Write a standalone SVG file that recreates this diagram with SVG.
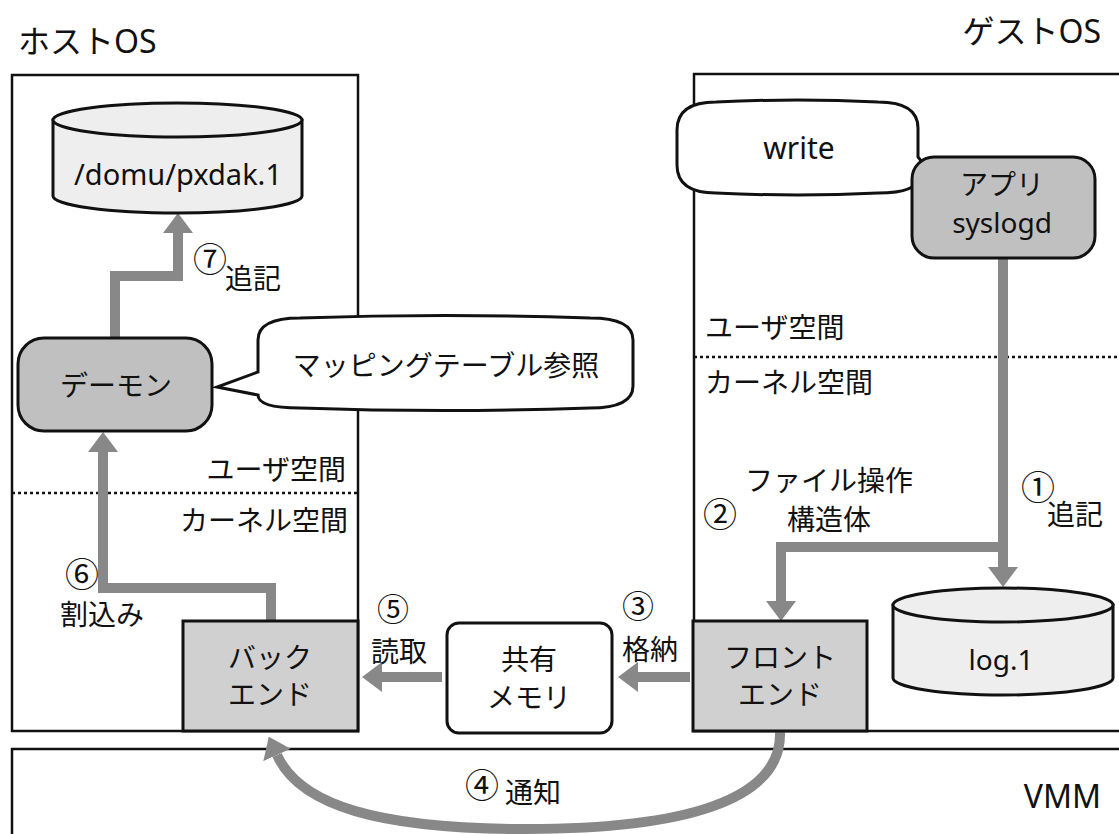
<svg xmlns="http://www.w3.org/2000/svg" width="1119" height="834" viewBox="0 0 1119 834">
<defs>
<style>
text{font-family:"Noto Sans","Noto Sans CJK JP",sans-serif;font-size:28px;fill:#111}
.cd{font-family:"Noto Sans CJK JP",sans-serif;font-size:34px}
.cds{font-size:32px}
.t32{font-size:32px}
.mid{text-anchor:middle}
.end{text-anchor:end}
.frame{fill:#fff;stroke:#111;stroke-width:2.5}
.dot{stroke:#111;stroke-width:2.5;stroke-dasharray:3 3;fill:none}
.conn{fill:none;stroke:#888;stroke-width:10;stroke-linejoin:miter}
.gray{fill:#c0c0c0;stroke:#111;stroke-width:3}
.lgray{fill:#d0d0d0;stroke:#111;stroke-width:3}
.white{fill:#fff;stroke:#111;stroke-width:3}
.cyl{fill:#eeeeee;stroke:#111;stroke-width:3}
</style>
<marker id="ah" viewBox="0 0 20 30" refX="0" refY="15" markerWidth="20" markerHeight="30" markerUnits="userSpaceOnUse" orient="auto">
<path d="M0,0 L20,15 L0,30 Z" fill="#888"/>
</marker>
</defs>
<rect width="1119" height="834" fill="#fff"/>

<g id="frames">
<rect class="frame" x="12" y="75" width="346" height="656"/>
<rect class="frame" x="694" y="74" width="500" height="657"/>
<rect class="frame" x="12" y="749" width="1200" height="200"/>
<line class="dot" x1="12" y1="493" x2="358" y2="493"/>
<line class="dot" x1="694" y1="357" x2="1119" y2="357"/>
<text class="t32" x="18" y="53">ホストOS</text>
<text class="t32 end" x="1101" y="43">ゲストOS</text>
<text class="t32 end" x="1101" y="808">VMM</text>
<text class="end" x="346" y="480">ユーザ空間</text>
<text class="end" x="348" y="531">カーネル空間</text>
<text x="705" y="338">ユーザ空間</text>
<text x="705" y="393">カーネル空間</text>
</g>

<g id="connectors">
<path class="conn" d="M1003,258 V567" marker-end="url(#ah)"/>
<path class="conn" d="M1003,547 H781 V601" marker-end="url(#ah)"/>
<path class="conn" d="M690,677 H638" marker-end="url(#ah)"/>
<path class="conn" d="M442,677 H382" marker-end="url(#ah)"/>
<path class="conn" d="M271,621 V588 H103 V452" marker-end="url(#ah)"/>
<path class="conn" d="M115,338 V276 H178 V233" marker-end="url(#ah)"/>
<path class="conn" d="M780,731 C783,802 680,829 526,829 C380,829 300,806 277,755" marker-end="url(#ah)"/>
<text class="cd" x="1021" y="500">①</text>
<text x="1047" y="525">追記</text>
<text class="cd" x="703" y="527">②</text>
<text class="cd cds mid" x="638" y="618">③</text>
<text class="mid" x="829" y="491">ファイル操作</text>
<text class="mid" x="829" y="530">構造体</text>
<text class="mid" x="650" y="660">格納</text>
<text class="cd" x="465" y="798">④</text>
<text x="505" y="803">通知</text>
<text class="cd cds mid" x="393" y="621">⑤</text>
<text class="mid" x="399" y="662">読取</text>
<text class="cd mid" x="82" y="587">⑥</text>
<text class="mid" x="102" y="625">割込み</text>
<text class="cd" x="193" y="272">⑦</text>
<text x="225" y="289">追記</text>
</g>

<g id="pxdak">
<path class="cyl" d="M53,120 V196 A124.5,17 0 0 0 302,196 V120 Z"/>
<ellipse class="cyl" cx="177.5" cy="120" rx="124.5" ry="17"/>
<text class="mid" x="178" y="185" style="font-size:29px">/domu/pxdak.1</text>
</g>

<g id="daemon">
<rect class="gray" x="18" y="338" width="194" height="93" rx="26" ry="26"/>
<text class="mid" x="116" y="396">デーモン</text>
</g>

<g id="mapping">
<path class="white" d="M258,372 V340 Q258,318 300,318 Q445,313 590,318 Q633,318 633,340 V386 Q633,408 590,408 Q445,413 300,408 Q258,408 258,395 L217,387 Z"/>
<text class="mid" x="446" y="376">マッピングテーブル参照</text>
</g>

<g id="backend">
<rect class="lgray" x="183" y="621" width="175" height="110"/>
<text class="mid" x="270" y="668">バック</text>
<text class="mid" x="270" y="705">エンド</text>
</g>

<g id="sharedmem">
<rect class="white" x="447" y="623" width="165" height="110" rx="12" ry="12"/>
<text class="mid" x="529" y="670">共有</text>
<text class="mid" x="529" y="708">メモリ</text>
</g>

<g id="frontend">
<rect class="lgray" x="693" y="621" width="174" height="110"/>
<text class="mid" x="780" y="668">フロント</text>
<text class="mid" x="780" y="705">エンド</text>
</g>

<g id="log1">
<path class="cyl" d="M893,605 V678 A110,17 0 0 0 1113,678 V605 Z"/>
<ellipse class="cyl" cx="1003" cy="605" rx="110" ry="17"/>
<text class="mid" x="1001" y="670">log.1</text>
</g>

<g id="write">
<path class="white" d="M918,157 V128 Q918,102 878,102 Q798,98 716,102 Q677,102 677,130 V165 Q677,193 716,193 Q798,197 878,193 Q918,193 918,177 L940,185 Z"/>
<text class="mid" x="799" y="159" style="font-size:30px">write</text>
</g>

<g id="syslogd">
<rect class="gray" x="912" y="157" width="183" height="101" rx="22" ry="22"/>
<text class="mid" x="1002" y="195">アプリ</text>
<text class="mid" x="1002" y="233">syslogd</text>
</g>
</svg>
